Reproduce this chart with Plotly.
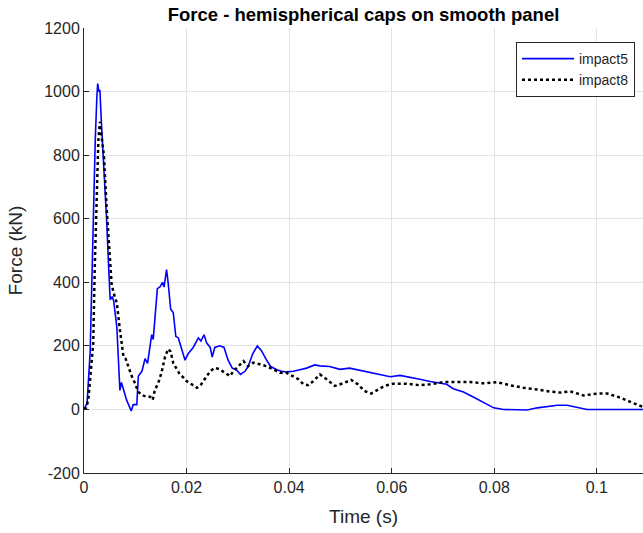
import plotly.graph_objects as go

# impact5 (blue, solid)
t5 = [0.0, 0.0006, 0.0012, 0.0018, 0.0022, 0.0025, 0.00267, 0.0029, 0.0031, 0.0034, 0.0039, 0.0044,
      0.0048, 0.0051, 0.0055, 0.0058, 0.0064, 0.0070, 0.0073, 0.0078, 0.0083, 0.0092, 0.0096, 0.0103,
      0.0106, 0.0113, 0.0119, 0.0124, 0.0132, 0.0135, 0.0140, 0.0143, 0.0148, 0.0153, 0.0156, 0.0161,
      0.0164, 0.0169, 0.0174, 0.0179, 0.0184, 0.0190, 0.0197, 0.0203, 0.0213, 0.0223, 0.0228, 0.0234,
      0.0239, 0.0246, 0.0250, 0.0255, 0.0265, 0.0273, 0.0281, 0.0289, 0.0297, 0.0305, 0.0314, 0.0320,
      0.0329, 0.0338, 0.0346, 0.0356, 0.0364, 0.0376, 0.0385, 0.0395, 0.0408, 0.0421, 0.0434, 0.0450,
      0.0460, 0.0479, 0.0499, 0.0518, 0.0538, 0.0557, 0.0577, 0.0597, 0.0616, 0.0636, 0.0655, 0.0675,
      0.0694, 0.0707, 0.0720, 0.0740, 0.0759, 0.0779, 0.0799, 0.0818, 0.0844, 0.0864, 0.0884, 0.0903,
      0.0923, 0.0942, 0.0962, 0.0981, 0.1001, 0.1027, 0.1053, 0.1090]
f5 = [0, 20, 180, 600, 850, 980, 1025, 1000, 1005, 900, 760, 600,
      450, 345, 355, 340, 260, 60, 85, 55, 30, -5, 15, 15,
      105, 120, 160, 145, 235, 220, 320, 380, 385, 400, 385, 440,
      400, 315, 305, 230, 225, 190, 155, 175, 195, 225, 215, 235,
      210, 195, 165, 195, 200, 195, 155, 130, 125, 110, 120, 135,
      175, 200, 185, 155, 135, 125, 120, 118, 120, 125, 130, 140,
      137, 135, 126, 130, 123, 116, 110, 103, 107, 102, 95, 88,
      84, 79, 65, 55, 39, 21, 5, 0, -2, -2, 5, 10,
      13, 13, 7, 0, 0, 0, 0, 0]

# impact8 (black, dotted)
t8 = [0.0, 0.0004, 0.00084, 0.0018, 0.0021, 0.0025, 0.0028, 0.0031, 0.0034, 0.0039, 0.0044, 0.0047,
      0.0051, 0.0054, 0.0060, 0.0064, 0.0070, 0.0077, 0.0081, 0.0086, 0.0093, 0.0099, 0.0106, 0.0113,
      0.0122, 0.0129, 0.0134, 0.0138, 0.0145, 0.0151, 0.0158, 0.0164, 0.0169, 0.0174, 0.0180, 0.0187,
      0.0194, 0.0200, 0.0210, 0.0220, 0.0226, 0.0236, 0.0246, 0.0255, 0.0265, 0.0275, 0.0285, 0.0291,
      0.0301, 0.0311, 0.0320, 0.0330, 0.0343, 0.0356, 0.0369, 0.0382, 0.0395, 0.0408, 0.0418, 0.0428,
      0.0437, 0.0447, 0.0460, 0.0473, 0.0489, 0.0505, 0.0521, 0.0534, 0.0547, 0.0560, 0.0573, 0.0586,
      0.0603, 0.0629, 0.0655, 0.0675, 0.0701, 0.0727, 0.0753, 0.0779, 0.0805, 0.0831, 0.0857, 0.0883,
      0.0909, 0.0929, 0.0948, 0.0974, 0.1001, 0.1020, 0.1046, 0.1072, 0.1090]
f8 = [0, 5, 30, 208, 449, 700, 847, 905, 868, 795, 637, 554,
      449, 391, 354, 335, 250, 166, 160, 135, 105, 84, 55, 45,
      40, 40, 30, 60, 84, 115, 165, 190, 182, 146, 130, 110,
      100, 89, 79, 68, 73, 95, 120, 131, 126, 115, 105, 120,
      136, 152, 136, 147, 142, 136, 126, 115, 115, 105, 95, 79,
      76, 89, 110, 95, 74, 82, 93, 79, 58, 50, 61, 74,
      81, 81, 76, 79, 86, 86, 86, 82, 86, 76, 68, 63,
      56, 53, 57, 44, 50, 50, 37, 19, 8]

x_ticks = [0, 0.02, 0.04, 0.06, 0.08, 0.1]
x_labels = ["0", "0.02", "0.04", "0.06", "0.08", "0.1"]
y_ticks = [-200, 0, 200, 400, 600, 800, 1000, 1200]
y_labels = ["-200", "0", "200", "400", "600", "800", "1000", "1200"]

fig = go.Figure()
fig.add_trace(go.Scatter(x=t5, y=f5, mode="lines", name="impact5",
                         line=dict(color="#0000ff", width=1.6)))
fig.add_trace(go.Scatter(x=t8, y=f8, mode="lines", name="impact8",
                         line=dict(color="#000000", width=2.5, dash="dot")))

FONT = "Liberation Sans, Arial, sans-serif"
axis_font = dict(family=FONT, size=16, color="#262626")
W, H = 643, 533
fig.update_layout(
    width=W, height=H,
    margin=dict(l=84, r=0, t=28, b=60),
    paper_bgcolor="white", plot_bgcolor="white",
    font=dict(family=FONT, color="#262626"),
    title=dict(text="<b>Force - hemispherical caps on smooth panel</b>",
               x=0.5, xref="paper", xanchor="center", y=1 - 15 / H, yanchor="middle",
               font=dict(size=18.5, color="#000000")),
    showlegend=True,
    legend=dict(x=0.9857, y=0.9685, xanchor="right", yanchor="top",
                bgcolor="white", bordercolor="#262626", borderwidth=1,
                font=dict(size=14, color="#262626"), tracegroupgap=0, itemwidth=52),
    hovermode=False,
)
fig.update_xaxes(range=[0, 0.109], tickvals=x_ticks, ticktext=x_labels,
                 showgrid=True, gridcolor="#e3e3e3", gridwidth=1,
                 showline=True, linecolor="#262626", linewidth=1,
                 ticks="inside", ticklen=5, tickcolor="#262626",
                 tickfont=axis_font, zeroline=False, automargin=False,
                 title=dict(text="Time (s)", font=dict(size=19, color="#262626"), standoff=14))
fig.update_yaxes(range=[-200, 1200], tickvals=y_ticks, ticktext=y_labels,
                 showgrid=True, gridcolor="#e3e3e3", gridwidth=1,
                 showline=True, linecolor="#262626", linewidth=1,
                 ticks="inside", ticklen=5, tickcolor="#262626",
                 tickfont=axis_font, zeroline=False, automargin=False,
                 title=dict(text="Force (kN)", font=dict(size=19, color="#262626"), standoff=16))

# remove the default 8px page margin so the figure fills the window exactly
fig.write_html("out.html", config={"displayModeBar": False, "staticPlot": True},
               post_script="document.body.style.margin='0';")
